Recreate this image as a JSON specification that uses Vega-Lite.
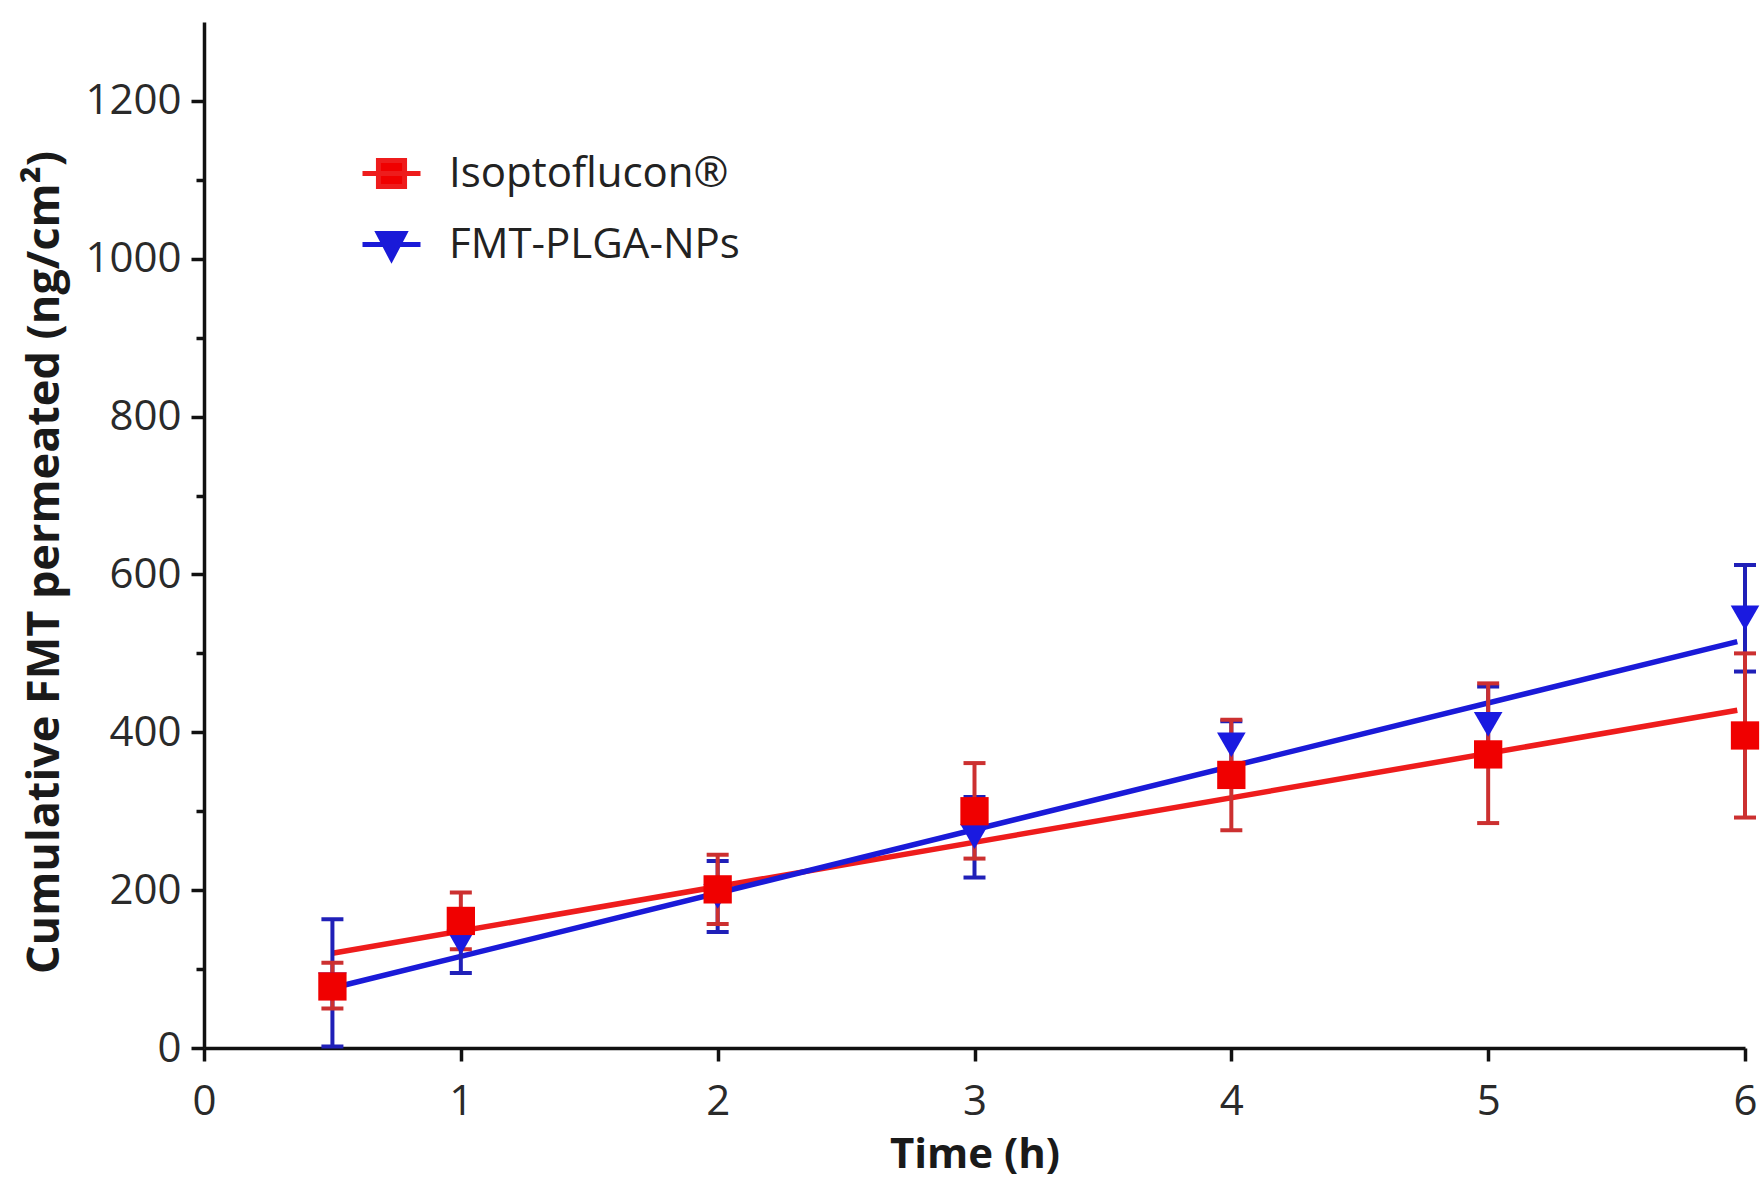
{
  "$schema": "https://vega.github.io/schema/vega-lite/v6.json",
  "width": 1541,
  "height": 1026,
  "autosize": {"type": "none"},
  "padding": {"left": 204, "top": 22, "right": 19, "bottom": 135},
  "background": "white",
  "config": {
    "view": {"stroke": null},
    "font": "Open Sans",
    "axis": {
      "domainColor": "#111111",
      "domainWidth": 3.5,
      "tickColor": "#111111",
      "tickWidth": 3.5,
      "grid": false,
      "labelFont": "Open Sans",
      "labelFontSize": 42,
      "labelColor": "#2a2a2a",
      "titleFont": "Open Sans",
      "titleFontSize": 42,
      "titleFontWeight": "bold",
      "titleColor": "#1a1a1a"
    }
  },
  "datasets": {
    "obs": [
      {"series": "Isoptoflucon®", "t": 0.5, "mean": 78, "lo": 50, "hi": 108},
      {"series": "Isoptoflucon®", "t": 1, "mean": 161, "lo": 125, "hi": 197},
      {"series": "Isoptoflucon®", "t": 2, "mean": 201, "lo": 157, "hi": 245},
      {"series": "Isoptoflucon®", "t": 3, "mean": 300, "lo": 240, "hi": 361},
      {"series": "Isoptoflucon®", "t": 4, "mean": 346, "lo": 276, "hi": 416},
      {"series": "Isoptoflucon®", "t": 5, "mean": 372, "lo": 285, "hi": 462},
      {"series": "Isoptoflucon®", "t": 6, "mean": 396, "lo": 292, "hi": 500},
      {"series": "FMT-PLGA-NPs", "t": 0.5, "mean": 80, "lo": 2, "hi": 163},
      {"series": "FMT-PLGA-NPs", "t": 1, "mean": 134, "lo": 95, "hi": 173},
      {"series": "FMT-PLGA-NPs", "t": 2, "mean": 192, "lo": 147, "hi": 237},
      {"series": "FMT-PLGA-NPs", "t": 3, "mean": 268, "lo": 216, "hi": 318},
      {"series": "FMT-PLGA-NPs", "t": 4, "mean": 384, "lo": 354, "hi": 414},
      {"series": "FMT-PLGA-NPs", "t": 5, "mean": 410, "lo": 362, "hi": 458},
      {"series": "FMT-PLGA-NPs", "t": 6, "mean": 545, "lo": 477, "hi": 612}
    ],
    "fit": [
      {"series": "Isoptoflucon®", "t": 0.5, "fit": 120},
      {"series": "Isoptoflucon®", "t": 5.97, "fit": 428},
      {"series": "FMT-PLGA-NPs", "t": 0.5, "fit": 76},
      {"series": "FMT-PLGA-NPs", "t": 5.97, "fit": 515}
    ]
  },
  "encoding": {
    "x": {
      "field": "t",
      "type": "quantitative",
      "scale": {"domain": [0, 6], "nice": false, "zero": false},
      "axis": {
        "values": [0, 1, 2, 3, 4, 5, 6],
        "format": "d",
        "tickSize": 13,
        "labelPadding": 20,
        "labelFlush": false,
        "labelOverlap": false,
        "title": "Time (h)",
        "titlePadding": 12
      }
    }
  },
  "layer": [
    {
      "data": {"name": "fit"},
      "mark": {"type": "line", "strokeWidth": 5.5},
      "encoding": {
        "y": {
          "field": "fit",
          "type": "quantitative",
          "scale": {"domain": [0, 1300], "nice": false, "zero": true},
          "axis": {
            "values": [0, 100, 200, 300, 400, 500, 600, 700, 800, 900, 1000, 1100, 1200],
            "format": "d",
            "labelExpr": "datum.value % 200 === 0 ? datum.label : ''",
            "tickSize": {"condition": {"test": "datum.value % 200 !== 0", "value": 8}, "value": 13},
            "labelPadding": 10,
            "labelFlush": false,
            "labelOverlap": false,
            "title": "Cumulative FMT permeated (ng/cm²)",
            "titleFontSize": 45,
            "titleAngle": -90,
            "titleX": -160,
            "titleY": 540,
            "titleBaseline": "middle",
            "titleAlign": "center"
          }
        },
        "color": {
          "field": "series",
          "type": "nominal",
          "scale": {"domain": ["Isoptoflucon®", "FMT-PLGA-NPs"], "range": ["#ee1c1c", "#1a1ad8"]},
          "legend": {
            "orient": "none",
            "legendX": 156,
            "legendY": 120,
            "title": null,
            "padding": 0,
            "symbolSize": 3364,
            "symbolStrokeWidth": 5,
            "labelFont": "Open Sans",
            "labelFontSize": 42,
            "labelColor": "#222222",
            "labelOffset": 26,
            "labelLimit": 0,
            "rowPadding": 16,
            "encode": {
              "symbols": {
                "update": {
                  "shape": {"signal": "datum.value === 'Isoptoflucon®' ? 'M-1,0H1M-0.45,-0.45H0.45V0.45H-0.45Z' : 'M-1,0H1M-0.45,-0.38H0.45L0,0.48Z'"},
                  "fill": {"signal": "datum.value === 'Isoptoflucon®' ? '#f00000' : '#1a1ad8'"},
                  "stroke": {"signal": "datum.value === 'Isoptoflucon®' ? '#ee1c1c' : '#1a1ad8'"},
                  "strokeWidth": {"value": 5},
                  "opacity": {"value": 1},
                  "fillOpacity": {"value": 1}
                }
              }
            }
          }
        }
      }
    },
    {
      "data": {"name": "obs"},
      "transform": [{"filter": "datum.series === 'FMT-PLGA-NPs'"}],
      "mark": {"type": "errorbar", "color": "#2020b8", "opacity": 1, "thickness": 4, "ticks": {"size": 22, "thickness": 4, "color": "#2020b8", "opacity": 1}},
      "encoding": {
        "y": {"field": "lo", "type": "quantitative", "scale": {"domain": [0, 1300], "nice": false}, "title": "Cumulative FMT permeated (ng/cm²)"},
        "y2": {"field": "hi"}
      }
    },
    {
      "data": {"name": "obs"},
      "transform": [{"filter": "datum.series === 'Isoptoflucon®'"}],
      "mark": {"type": "errorbar", "color": "#cc3030", "opacity": 1, "thickness": 4, "ticks": {"size": 22, "thickness": 4, "color": "#cc3030", "opacity": 1}},
      "encoding": {
        "y": {"field": "lo", "type": "quantitative", "scale": {"domain": [0, 1300], "nice": false}, "title": "Cumulative FMT permeated (ng/cm²)"},
        "y2": {"field": "hi"}
      }
    },
    {
      "data": {"name": "obs"},
      "transform": [{"filter": "datum.series === 'FMT-PLGA-NPs'"}],
      "mark": {"type": "point", "shape": "triangle-down", "filled": true, "size": 820, "color": "#1a1ae0", "opacity": 1},
      "encoding": {
        "y": {"field": "mean", "type": "quantitative", "scale": {"domain": [0, 1300], "nice": false}, "title": "Cumulative FMT permeated (ng/cm²)"}
      }
    },
    {
      "data": {"name": "obs"},
      "transform": [{"filter": "datum.series === 'Isoptoflucon®'"}],
      "mark": {"type": "point", "shape": "square", "filled": true, "size": 800, "color": "#f00000", "opacity": 1},
      "encoding": {
        "y": {"field": "mean", "type": "quantitative", "scale": {"domain": [0, 1300], "nice": false}, "title": "Cumulative FMT permeated (ng/cm²)"}
      }
    }
  ]
}
